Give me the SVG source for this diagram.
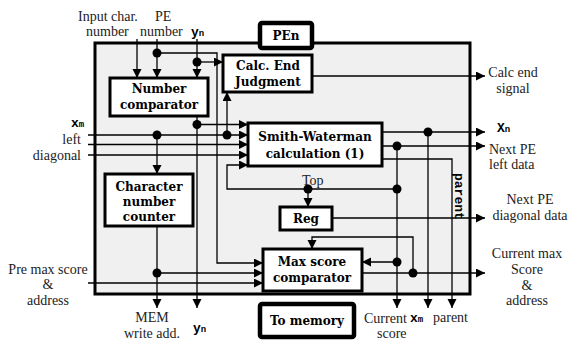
<svg xmlns="http://www.w3.org/2000/svg" width="570" height="345" viewBox="0 0 570 345">
<defs>
<marker id="ar" markerUnits="userSpaceOnUse" markerWidth="10" markerHeight="10" refX="9" refY="4.5" orient="auto"><path d="M0,0 L9,4.5 L0,9 z" fill="#000"/></marker>
<style>
.box{fill:#fff;stroke:#000;stroke-width:3}
.bx2{fill:#fff;stroke:#000;stroke-width:4.5}
.bt{font-family:"DejaVu Serif",serif;font-weight:bold;font-size:12px;fill:#000;text-anchor:middle}
.lb{font-family:"Liberation Serif",serif;font-size:14px;fill:#222}
.mo{font-family:"Liberation Mono",monospace;font-weight:bold;font-size:13px;fill:#000}
.ln{fill:none;stroke:#000;stroke-width:1.3}
.ln.a{marker-end:url(#ar)}
.dot{fill:#000}
</style>
</defs>
<rect width="570" height="345" fill="#fff"/>
<g id="pe-main"><rect x="95" y="43" width="375" height="251" fill="#f0f0f0" stroke="#000" stroke-width="3"/></g>
<g id="pen"><rect class="bx2" x="260" y="23" width="52" height="25" rx="2"/><text class="bt" x="286" y="40">PEn</text></g>
<g id="calc-end"><rect class="box" x="223" y="55" width="89" height="37"/><text class="bt" x="268" y="70">Calc. End</text><text class="bt" x="268" y="86">Judgment</text></g>
<g id="number-comparator"><rect class="box" x="110" y="78" width="98" height="38"/><text class="bt" x="159" y="93">Number</text><text class="bt" x="159" y="109">comparator</text></g>
<g id="smith-waterman"><rect class="box" x="248" y="123" width="134" height="43"/><text class="bt" x="315" y="141">Smith-Waterman</text><text class="bt" x="315" y="158">calculation (1)</text></g>
<g id="char-counter"><rect class="box" x="105" y="174" width="88" height="52"/><text class="bt" x="149" y="191">Character</text><text class="bt" x="149" y="206">number</text><text class="bt" x="149" y="221">counter</text></g>
<g id="reg"><rect class="box" x="280" y="207" width="52" height="23"/><text class="bt" x="306" y="223">Reg</text></g>
<g id="max-score"><rect class="box" x="263" y="249" width="99" height="42"/><text class="bt" x="312" y="266">Max score</text><text class="bt" x="312" y="282">comparator</text></g>
<g id="to-memory"><rect class="bx2" x="260" y="304" width="94" height="33" rx="2"/><text class="bt" x="307" y="325">To memory</text></g>
<g id="connectors">
<path class="ln a" d="M137,39 V78"/>
<path class="ln a" d="M157,39 V78"/>
<path class="ln a" d="M157,53 H217 V263 H263"/>
<path class="ln a" d="M197,39 V78"/>
<path class="ln a" d="M197,62 H223"/>
<path class="ln a" d="M197,116 V308"/>
<path class="ln a" d="M197,124.5 H248"/>
<path class="ln a" d="M88,135 H248"/>
<path class="ln a" d="M88,144.5 H248"/>
<path class="ln a" d="M88,155 H248"/>
<path class="ln a" d="M157,135 V174"/>
<path class="ln a" d="M227,135 V92"/>
<path class="ln a" d="M397,189 H227 V165 H248"/>
<path class="ln a" d="M157,226 V308"/>
<path class="ln a" d="M157,273 H263"/>
<path class="ln a" d="M88,283 H263"/>
<path class="ln a" d="M382,132 H485"/>
<path class="ln a" d="M382,146 H485"/>
<path class="ln a" d="M382,159 H452 V308"/>
<path class="ln a" d="M428,132 V308"/>
<path class="ln a" d="M397,146 V308"/>
<path class="ln a" d="M308,189 V207"/>
<path class="ln a" d="M332,218 H485"/>
<path class="ln a" d="M397,262 H362"/>
<path class="ln a" d="M362,273 H485"/>
<path class="ln a" d="M413,273 V237 H312 V249"/>
<path class="ln a" d="M312,76 H485"/>
<circle class="dot" cx="157" cy="53" r="4.5"/>
<circle class="dot" cx="197" cy="62" r="4.5"/>
<circle class="dot" cx="197" cy="124.5" r="4.5"/>
<circle class="dot" cx="157" cy="135" r="4.5"/>
<circle class="dot" cx="227" cy="135" r="4.5"/>
<circle class="dot" cx="308" cy="189" r="4.5"/>
<circle class="dot" cx="397" cy="189" r="4.5"/>
<circle class="dot" cx="397" cy="146" r="4.5"/>
<circle class="dot" cx="428" cy="132" r="4.5"/>
<circle class="dot" cx="397" cy="262" r="4.5"/>
<circle class="dot" cx="413" cy="273" r="4.5"/>
<circle class="dot" cx="157" cy="273" r="4.5"/>
</g>
<g id="labels">
<text class="lb" x="78" y="21">Input char.</text>
<text class="lb" x="155" y="21">PE</text>
<text class="lb" x="86" y="36">number</text>
<text class="lb" x="140" y="36">number</text>
<text class="mo" x="191" y="36">y<tspan font-size="9">n</tspan></text>
<text class="mo" x="71" y="127">x<tspan font-size="9">m</tspan></text>
<text class="lb" x="81" y="144" text-anchor="end">left</text>
<text class="lb" x="81" y="160" text-anchor="end">diagonal</text>
<text class="lb" x="48" y="274" text-anchor="middle">Pre max score</text>
<text class="lb" x="48" y="289" text-anchor="middle">&amp;</text>
<text class="lb" x="48" y="305" text-anchor="middle">address</text>
<text class="lb" x="152" y="322" text-anchor="middle">MEM</text>
<text class="lb" x="152" y="338" text-anchor="middle">write add.</text>
<text class="mo" x="193" y="332">y<tspan font-size="9">n</tspan></text>
<text class="lb" x="302" y="185" font-size="13" fill="#555">Top</text>
<text class="lb" x="364" y="323" font-size="13">Current</text>
<text class="lb" x="377" y="338" font-size="13">score</text>
<text class="mo" x="410" y="322">x<tspan font-size="9">m</tspan></text>
<text class="lb" x="433" y="322">parent</text>
<text class="mo" font-size="12" transform="translate(455,173) rotate(90)">parent</text>
<text class="lb" x="513" y="77" text-anchor="middle">Calc end</text>
<text class="lb" x="513" y="93" text-anchor="middle">signal</text>
<text class="mo" x="497" y="132">X<tspan font-size="9">n</tspan></text>
<text class="lb" x="489" y="154">Next PE</text>
<text class="lb" x="489" y="169">left data</text>
<text class="lb" x="530" y="204" text-anchor="middle">Next PE</text>
<text class="lb" x="530" y="220" text-anchor="middle">diagonal data</text>
<text class="lb" x="527" y="258" text-anchor="middle">Current max</text>
<text class="lb" x="527" y="274" text-anchor="middle">Score</text>
<text class="lb" x="527" y="290" text-anchor="middle">&amp;</text>
<text class="lb" x="527" y="305" text-anchor="middle">address</text>
</g>
</svg>
